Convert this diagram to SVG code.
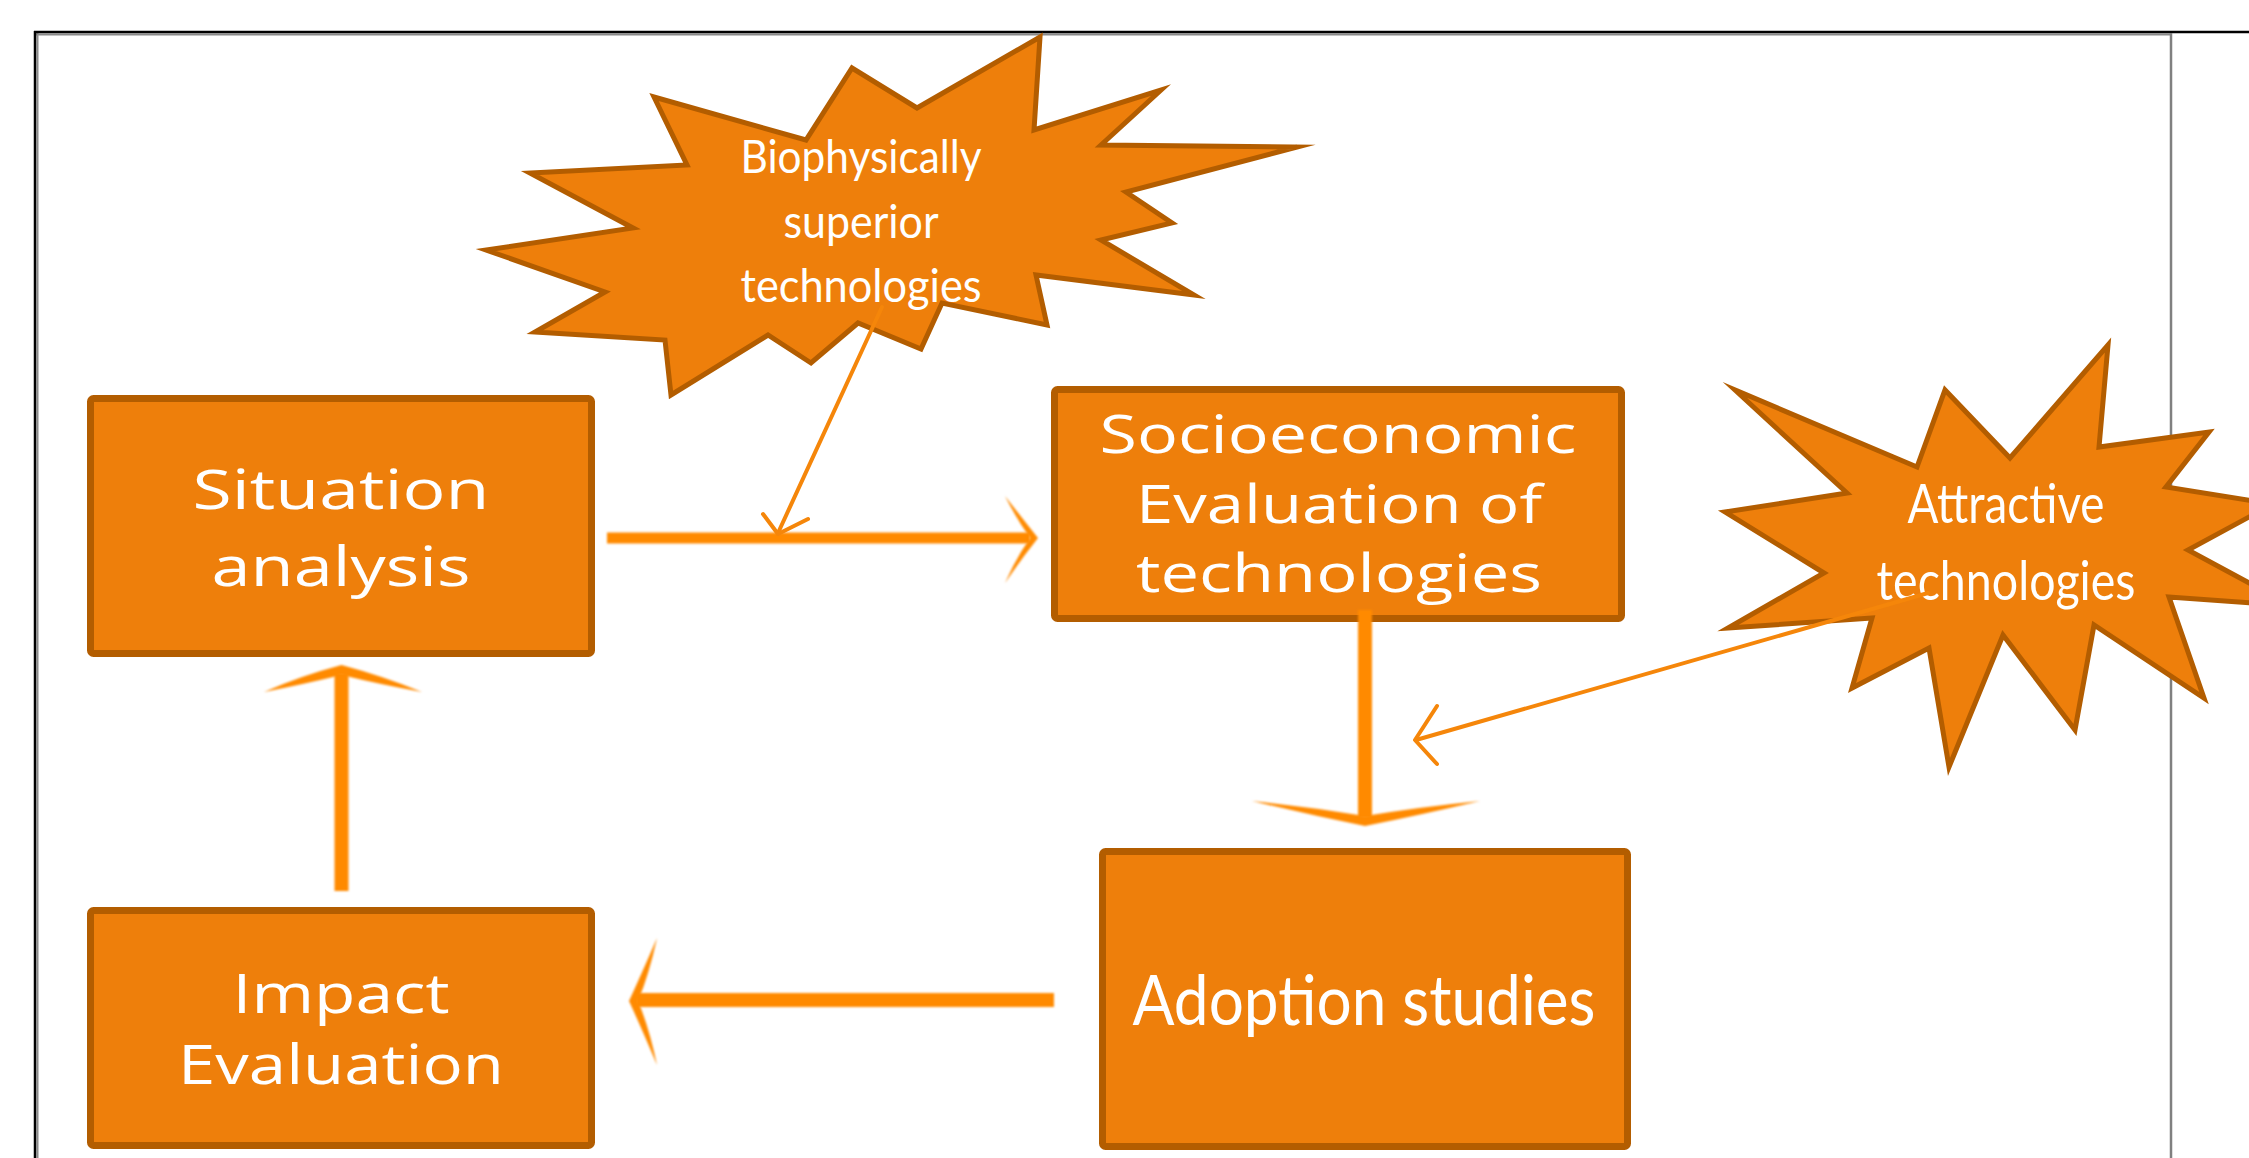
<svg xmlns="http://www.w3.org/2000/svg" width="2249" height="1158" viewBox="0 0 2249 1158">
  <defs>
    <style>
      .box { fill: #EE7F0B; stroke: #B35D00; stroke-width: 7; }
      .star { fill: #EE7F0B; stroke: #B35D00; stroke-width: 5; stroke-linejoin: miter; stroke-miterlimit: 20; }
      .wide { font-family: "Open Sans", "Noto Sans", "DejaVu Sans", sans-serif; fill: #FFFFFF; text-anchor: middle; }
      .narrow { font-family: Lato, "Open Sans", "Liberation Sans", sans-serif; fill: #FFFFFF; text-anchor: middle; }
      .shaft { stroke: #FF8A00; fill: none; filter: url(#soft); }
      .head { fill: #FF8A00; filter: url(#soft); }
      .thin { stroke: #F5860A; stroke-width: 4; fill: none; stroke-linecap: round; stroke-linejoin: round; }
    </style>
    <!-- soft edge for the broad flow arrows; user-space region so straight lines keep their blur -->
    <filter id="soft" filterUnits="userSpaceOnUse" x="0" y="0" width="2249" height="1158">
      <feGaussianBlur stdDeviation="1.3"/>
    </filter>
  </defs>

  <rect width="2249" height="1158" fill="#FFFFFF"/>

  <!-- page frame -->
  <g id="frame">
    <line x1="35" y1="34.5" x2="2171" y2="34.5" stroke="#8A8A8A" stroke-width="2"/>
    <line x1="37.5" y1="33" x2="37.5" y2="1158" stroke="#8A8A8A" stroke-width="2"/>
    <line x1="34" y1="32" x2="2249" y2="32" stroke="#000000" stroke-width="2.5"/>
    <line x1="35" y1="31" x2="35" y2="1158" stroke="#000000" stroke-width="2.5"/>
    <line x1="2171" y1="33" x2="2171" y2="1158" stroke="#808080" stroke-width="2.5"/>
  </g>

  <g id="situation-analysis">
    <rect class="box" x="90.5" y="398.5" width="501" height="255" rx="3"/>
    <text class="wide" x="341" y="509" font-size="55" textLength="297" lengthAdjust="spacingAndGlyphs">Situation</text>
    <text class="wide" x="341" y="586" font-size="55" textLength="259" lengthAdjust="spacingAndGlyphs">analysis</text>
  </g>

  <g id="socioeconomic-evaluation">
    <rect class="box" x="1054.5" y="389.5" width="567" height="229" rx="3"/>
    <text class="wide" x="1338" y="453" font-size="53" textLength="477" lengthAdjust="spacingAndGlyphs">Socioeconomic</text>
    <text class="wide" x="1339" y="523" font-size="53" textLength="406" lengthAdjust="spacingAndGlyphs">Evaluation of</text>
    <text class="wide" x="1339" y="592" font-size="53" textLength="406" lengthAdjust="spacingAndGlyphs">technologies</text>
  </g>

  <g id="adoption-studies">
    <rect class="box" x="1102.5" y="851.5" width="525" height="295" rx="3"/>
    <text class="narrow" x="1364" y="1025" font-size="70" textLength="463" lengthAdjust="spacingAndGlyphs">Adoption studies</text>
  </g>

  <g id="impact-evaluation">
    <rect class="box" x="90.5" y="910.5" width="501" height="235" rx="3"/>
    <text class="wide" x="341" y="1013" font-size="54" textLength="217" lengthAdjust="spacingAndGlyphs">Impact</text>
    <text class="wide" x="341" y="1084" font-size="54" textLength="326" lengthAdjust="spacingAndGlyphs">Evaluation</text>
  </g>

  <g id="biophysically-superior">
    <polygon class="star" points="1040,37 1034,130 1161,90 1101,145 1297,147 1126,192 1172,223 1101,240 1194,295 1036,275 1047,325 942,303 921,349 858,323 811,363 768,335 671,395 665,340 535,332 605,292 486,250 633,228 530,173 687,165 654,97 806,140 852,68 917,108"/>
    <text class="narrow" x="861" y="173" font-size="46" textLength="241" lengthAdjust="spacingAndGlyphs">Biophysically</text>
    <text class="narrow" x="861" y="238" font-size="46" textLength="155" lengthAdjust="spacingAndGlyphs">superior</text>
    <text class="narrow" x="861" y="302" font-size="46" textLength="241" lengthAdjust="spacingAndGlyphs">technologies</text>
  </g>

  <g id="attractive-technologies">
    <polygon class="star" points="2108,345 2099,447 2209,432 2166,487 2273,504 2188,550 2292,606 2169,597 2204,698 2094,625 2075,730 2003,635 1949,767 1929,648 1852,688 1872,618 1728,628 1824,573 1725,512 1847,493 1735,390 1917,467 1945,390 2010,458"/>
    <text class="narrow" x="2006" y="523" font-size="54" textLength="197" lengthAdjust="spacingAndGlyphs">Attractive</text>
    <text class="narrow" x="2006" y="600" font-size="54" textLength="259" lengthAdjust="spacingAndGlyphs">technologies</text>
  </g>

  <g id="connectors">
    <!-- situation analysis to socioeconomic evaluation -->
    <line class="shaft" x1="607" y1="538" x2="1030" y2="538" stroke-width="11"/>
    <path class="head" d="M1005,496 Q1022,518 1038,538 Q1022,558 1005,583 Q1016,558 1030,538 Q1016,518 1005,496 Z"/>

    <!-- socioeconomic evaluation to adoption studies -->
    <line class="shaft" x1="1365" y1="610" x2="1365" y2="818" stroke-width="14"/>
    <path class="head" d="M1252,801 Q1310,815 1365,826 Q1420,815 1480,801 Q1420,807 1365,816 Q1310,807 1252,801 Z"/>

    <!-- adoption studies to impact evaluation -->
    <line class="shaft" x1="1054" y1="1000" x2="636" y2="1000" stroke-width="14"/>
    <path class="head" d="M657,938 Q641,975 629,1001 Q641,1027 657,1065 Q649,1027 638,1001 Q649,975 657,938 Z"/>

    <!-- impact evaluation to situation analysis -->
    <line class="shaft" x1="341.5" y1="891" x2="341.5" y2="673" stroke-width="14"/>
    <path class="head" d="M264,692 Q300,676 341.5,665 Q383,676 422,692 Q383,685 341.5,675 Q300,685 264,692 Z"/>

    <!-- biophysically superior technologies feed into the first step -->
    <line class="thin" x1="882" y1="307" x2="778" y2="533"/>
    <polyline class="thin" points="763,514 778,534 808,519"/>

    <!-- attractive technologies feed into adoption -->
    <line class="thin" x1="1928" y1="593" x2="1416" y2="740"/>
    <polyline class="thin" points="1437,706 1415,740 1437,764"/>
  </g>
</svg>
